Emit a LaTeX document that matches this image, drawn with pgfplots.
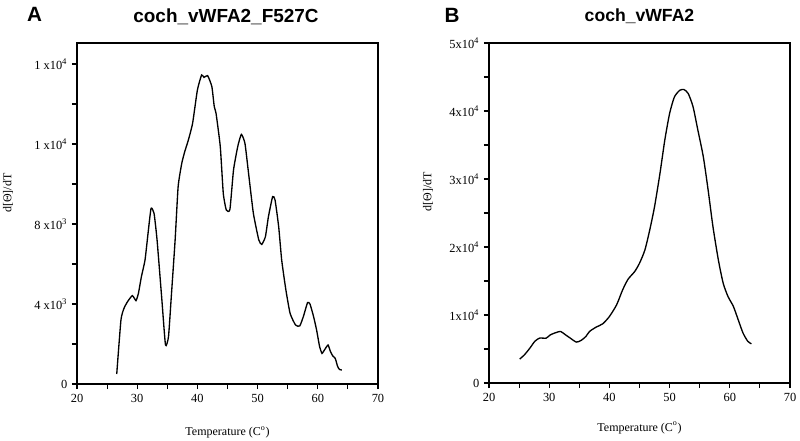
\documentclass[border=0pt]{standalone}
\usepackage{fontspec}
\setmainfont{Liberation Serif}
\newfontfamily\headfont{Liberation Sans}
\usepackage{pgfplots}
\pgfplotsset{compat=1.18}
\pgfplotsset{
  panel/.style={
    scale only axis,
    width=225.75pt,
    scaled x ticks=false, scaled y ticks=false,
    axis line style={line width=0.9pt},
    tick style={line width=0.8pt, black},
    tick align=outside,
    major tick length=3.8pt,
    minor tick length=3.8pt,
    xtick pos=left, ytick pos=left,
    xmin=20, xmax=70,
    xtick={20,30,40,50,60,70},
    xticklabels={20,30,40,50,60,70},
    minor xtick={25,35,45,55,65},
    tick label style={font=\fontsize{9.3}{10}\selectfont},
    label style={font=\fontsize{9}{10}\selectfont},
    title style={font=\headfont\bfseries\fontsize{13.2}{15}\selectfont, anchor=center},
    xlabel={Temperature (C\textsuperscript{o})},
    ylabel={d[Θ]/dT},
  }
}
\begin{document}
\begin{tikzpicture}
\useasboundingbox (0,0) rectangle (600pt,330pt);
\node[font=\headfont\bfseries\fontsize{15.5}{17}\selectfont] at (25.9pt,319.1pt) {A};
\node[font=\headfont\bfseries\fontsize{15.5}{17}\selectfont] at (339pt,318.75pt) {B};
\begin{axis}[panel,
  at={(57.75pt,42pt)}, anchor=south west,
  height=255.75pt,
  ymin=0, ymax=17050,
  ytick={0,4000,8000,12000,16000},
  yticklabels={0,4 x10\textsuperscript{3},8 x10\textsuperscript{3},1 x10\textsuperscript{4},1 x10\textsuperscript{4}},
  minor ytick={2000,6000,10000,14000},
  title={coch\_vWFA2\_F527C},
  title style={at={(axis description cs:0.495,1.053)}, font=\headfont\bfseries\fontsize{14.2}{16}\selectfont},
  xlabel style={at={(axis description cs:0.5,-0.141)}, anchor=center},
  ylabel style={at={(axis description cs:-0.229,0.56)}, anchor=center},
]
\addplot[black, line width=1pt, smooth, tension=0.3] coordinates {
(26.6,500) (27.3,3200) (27.8,3780) (28.4,4120) (29.2,4420) (29.8,4170)
(30.2,4530) (30.7,5370) (31.3,6200) (31.8,7530) (32.3,8780) (32.8,8530)
(33.3,7200) (34.1,4200) (34.7,1950) (35.2,2370) (35.7,4530) (36.3,7200)
(36.8,9870) (37.4,11030) (37.9,11620) (38.5,12200) (39.2,13030) (40.0,14700)
(40.7,15450) (41.1,15330) (41.7,15420) (42.4,14870) (42.8,13870) (43.1,13530)
(43.8,11870) (44.3,9530) (44.8,8700) (45.4,8730) (46.0,10700) (46.7,11870)
(47.3,12480) (47.9,12030) (48.5,10530) (49.3,8530) (50.2,7200) (50.7,6980)
(51.3,7370) (51.8,8370) (52.5,9370) (52.9,9200) (53.5,7870) (54.0,6200)
(54.7,4700) (55.4,3530) (56.3,2950) (57.0,2900) (57.6,3370) (58.3,4070)
(58.7,4000) (59.3,3370) (59.8,2700) (60.3,1870) (60.7,1530) (61.1,1700)
(61.7,1950) (62.1,1620) (62.5,1400) (62.9,1280) (63.3,870) (63.6,730) (64.0,700)
};
\end{axis}
\begin{axis}[panel,
  at={(366.75pt,42.75pt)}, anchor=south west,
  height=255pt,
  ymin=0, ymax=50000,
  ytick={0,10000,20000,30000,40000,50000},
  yticklabels={0,1x10\textsuperscript{4},2x10\textsuperscript{4},3x10\textsuperscript{4},4x10\textsuperscript{4},5x10\textsuperscript{4}},
  minor ytick={5000,15000,25000,35000,45000},
  title={coch\_vWFA2},
  title style={at={(axis description cs:0.5,1.055)}},
  xlabel style={at={(axis description cs:0.5,-0.132)}, anchor=center},
  ylabel style={at={(axis description cs:-0.203,0.562)}, anchor=center},
]
\addplot[black, line width=1pt, smooth, tension=0.4] coordinates {
(25.1,3520) (25.9,4160) (26.8,5140) (27.6,6120) (28.4,6600) (29.5,6600)
(30.2,7090) (31.2,7440) (31.9,7580) (32.7,7090) (33.5,6600) (34.5,6020)
(35.3,6260) (36.1,6850) (36.7,7580) (37.8,8220) (38.9,8710) (40.0,9780)
(41.2,11500) (42.2,13700) (43.1,15260) (44.2,16390) (45.0,17610) (45.9,19570)
(46.7,22500) (47.5,25930) (48.4,30820) (49.2,35710) (50.0,39630) (50.8,42070)
(51.7,43050) (52.4,43150) (53.1,42560) (53.9,40610) (54.7,37180) (55.6,33270)
(56.4,28380) (57.2,23000) (58.1,18100) (58.9,14680) (59.7,12720) (60.6,11250)
(61.4,9290) (62.2,7340) (63.0,6120) (63.6,5770)
};
\end{axis}
\end{tikzpicture}
\end{document}
